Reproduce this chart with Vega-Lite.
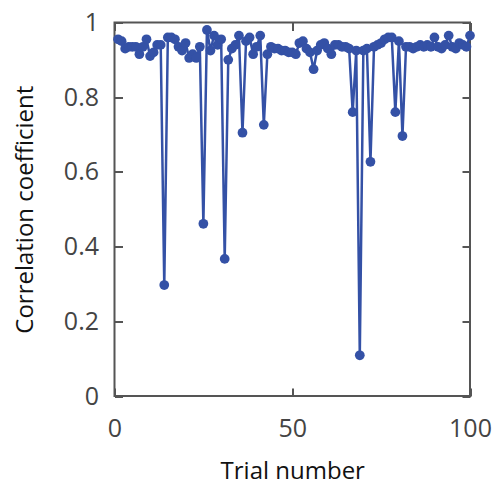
{
  "$schema": "https://vega.github.io/schema/vega-lite/v6.json",
  "autosize": "none",
  "width": 355.5,
  "height": 373.5,
  "padding": {"left": 114.5, "top": 22.5, "right": 27, "bottom": 91},
  "background": "white",
  "config": {
    "view": {"stroke": "#555555", "strokeWidth": 2},
    "axis": {"grid": false, "domain": false, "tickColor": "#555555", "tickWidth": 2, "tickSize": -8, "labelFlush": false, "labelFont": "Open Sans", "labelFontSize": 25, "labelColor": "#444444", "titleFont": "Open Sans", "titleFontSize": 24, "titleFontWeight": "normal", "titleColor": "#111111"}
  },
  "data": {"values": [
    {"trial": 1, "r": 0.955}, {"trial": 2, "r": 0.95}, {"trial": 3, "r": 0.93}, {"trial": 4, "r": 0.935}, {"trial": 5, "r": 0.935},
    {"trial": 6, "r": 0.935}, {"trial": 7, "r": 0.915}, {"trial": 8, "r": 0.935}, {"trial": 9, "r": 0.955}, {"trial": 10, "r": 0.91},
    {"trial": 11, "r": 0.92}, {"trial": 12, "r": 0.94}, {"trial": 13, "r": 0.94}, {"trial": 14, "r": 0.297}, {"trial": 15, "r": 0.96},
    {"trial": 16, "r": 0.96}, {"trial": 17, "r": 0.955}, {"trial": 18, "r": 0.935}, {"trial": 19, "r": 0.925}, {"trial": 20, "r": 0.945},
    {"trial": 21, "r": 0.905}, {"trial": 22, "r": 0.915}, {"trial": 23, "r": 0.905}, {"trial": 24, "r": 0.935}, {"trial": 25, "r": 0.461},
    {"trial": 26, "r": 0.98}, {"trial": 27, "r": 0.925}, {"trial": 28, "r": 0.965}, {"trial": 29, "r": 0.94}, {"trial": 30, "r": 0.955},
    {"trial": 31, "r": 0.367}, {"trial": 32, "r": 0.9}, {"trial": 33, "r": 0.93}, {"trial": 34, "r": 0.94}, {"trial": 35, "r": 0.965},
    {"trial": 36, "r": 0.705}, {"trial": 37, "r": 0.95}, {"trial": 38, "r": 0.96}, {"trial": 39, "r": 0.915}, {"trial": 40, "r": 0.935},
    {"trial": 41, "r": 0.965}, {"trial": 42, "r": 0.726}, {"trial": 43, "r": 0.915}, {"trial": 44, "r": 0.935}, {"trial": 45, "r": 0.93},
    {"trial": 46, "r": 0.93}, {"trial": 47, "r": 0.925}, {"trial": 48, "r": 0.925}, {"trial": 49, "r": 0.92}, {"trial": 50, "r": 0.92},
    {"trial": 51, "r": 0.915}, {"trial": 52, "r": 0.945}, {"trial": 53, "r": 0.95}, {"trial": 54, "r": 0.93}, {"trial": 55, "r": 0.92},
    {"trial": 56, "r": 0.875}, {"trial": 57, "r": 0.925}, {"trial": 58, "r": 0.94}, {"trial": 59, "r": 0.945}, {"trial": 60, "r": 0.93},
    {"trial": 61, "r": 0.915}, {"trial": 62, "r": 0.94}, {"trial": 63, "r": 0.94}, {"trial": 64, "r": 0.935}, {"trial": 65, "r": 0.935},
    {"trial": 66, "r": 0.93}, {"trial": 67, "r": 0.76}, {"trial": 68, "r": 0.925}, {"trial": 69, "r": 0.109}, {"trial": 70, "r": 0.925},
    {"trial": 71, "r": 0.93}, {"trial": 72, "r": 0.627}, {"trial": 73, "r": 0.935}, {"trial": 74, "r": 0.94}, {"trial": 75, "r": 0.945},
    {"trial": 76, "r": 0.955}, {"trial": 77, "r": 0.96}, {"trial": 78, "r": 0.96}, {"trial": 79, "r": 0.76}, {"trial": 80, "r": 0.95},
    {"trial": 81, "r": 0.696}, {"trial": 82, "r": 0.935}, {"trial": 83, "r": 0.935}, {"trial": 84, "r": 0.93}, {"trial": 85, "r": 0.935},
    {"trial": 86, "r": 0.94}, {"trial": 87, "r": 0.935}, {"trial": 88, "r": 0.94}, {"trial": 89, "r": 0.935}, {"trial": 90, "r": 0.96},
    {"trial": 91, "r": 0.935}, {"trial": 92, "r": 0.93}, {"trial": 93, "r": 0.94}, {"trial": 94, "r": 0.965}, {"trial": 95, "r": 0.935},
    {"trial": 96, "r": 0.93}, {"trial": 97, "r": 0.945}, {"trial": 98, "r": 0.94}, {"trial": 99, "r": 0.935}, {"trial": 100, "r": 0.965}
  ]},
  "resolve": {"axis": {"x": "independent", "y": "independent"}},
  "layer": [
    {
      "mark": {"type": "line", "color": "#3451a6", "strokeWidth": 2.5, "clip": false},
      "encoding": {
        "x": {"field": "trial", "type": "quantitative", "scale": {"domain": [0, 100], "nice": false, "zero": false},
              "axis": {"values": [0, 50, 100], "format": "d", "title": "Trial number", "labelPadding": 28, "titlePadding": 18}},
        "y": {"field": "r", "type": "quantitative", "scale": {"domain": [0, 1], "nice": false},
              "axis": {"values": [0, 0.2, 0.4, 0.6, 0.8, 1], "format": "~g", "title": "Correlation coefficient", "labelPadding": 24, "titlePadding": 26}}
      }
    },
    {
      "mark": {"type": "point", "filled": true, "opacity": 1, "color": "#3451a6", "size": 95, "clip": false},
      "encoding": {
        "x": {"field": "trial", "type": "quantitative", "axis": {"orient": "top", "values": [0, 50, 100], "labels": false, "title": null}},
        "y": {"field": "r", "type": "quantitative", "axis": {"orient": "right", "values": [0, 0.2, 0.4, 0.6, 0.8, 1], "labels": false, "title": null}}
      }
    }
  ]
}
